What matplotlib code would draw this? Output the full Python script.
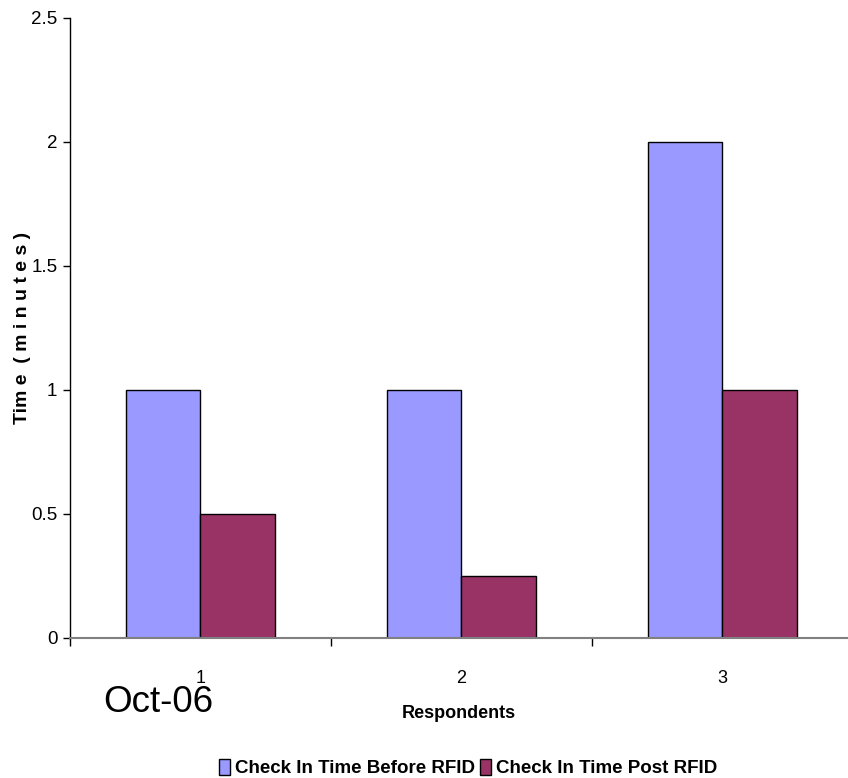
import numpy as np
import matplotlib
matplotlib.use("Agg")
import matplotlib.pyplot as plt

# data
respondents = ["1", "2", "3"]
before_rfid = [1.0, 1.0, 2.0]
post_rfid = [0.5, 0.25, 1.0]
y_ticks = [0, 0.5, 1, 1.5, 2, 2.5]
y_tick_labels = ["0", "0.5", "1", "1.5", "2", "2.5"]

sans = ["Liberation Sans", "DejaVu Sans"]

fig = plt.figure(figsize=(8.48, 7.78), dpi=100)
ax = fig.add_axes([70 / 848, 140 / 778, 778 / 848, 620 / 778])

x = np.arange(len(respondents))
w = 0.287
ax.bar(x - w / 2, before_rfid, w, color="#9999ff", edgecolor="black", linewidth=1,
       label="Check In Time Before RFID", zorder=2)
ax.bar(x + w / 2, post_rfid, w, color="#993366", edgecolor="black", linewidth=1,
       label="Check In Time Post RFID", zorder=2)

ax.set_xlim(-0.5, 2.481)
ax.set_ylim(0, 2.5)

ax.spines["top"].set_visible(False)
ax.spines["right"].set_visible(False)
ax.spines["bottom"].set_color("#808080")
ax.spines["bottom"].set_linewidth(1.5)
ax.spines["left"].set_linewidth(1)

ax.set_yticks(y_ticks)
ax.set_yticklabels(y_tick_labels, family=sans, fontsize=13.5)
ax.tick_params(axis="y", length=5, width=1, pad=4)

# ticks between categories, labels at centres
ax.set_xticks([-0.5, 0.5, 1.5])
ax.set_xticklabels([])
ax.set_xticks(x, minor=True)
ax.set_xticklabels(respondents, minor=True, family=sans, fontsize=13)
ax.tick_params(axis="x", which="major", length=6, width=1, color="black")
ax.tick_params(axis="x", which="minor", length=0, pad=23)

ax.set_xlabel("Respondents", family=sans, fontsize=13, fontweight="bold", labelpad=13)
ax.set_ylabel("Tim e  ( m i n u t e s )", family=sans, fontsize=14, fontweight="bold")
ax.yaxis.set_label_coords(-39 / 778, 0.5)

fig.text(103 / 848, 1 - 703 / 778, "Oct-06", family="Liberation Sans", fontsize=26.5,
         va="center", ha="left")

leg = fig.legend(loc="center", bbox_to_anchor=(468 / 848, 1 - 768 / 778), ncol=2,
                 frameon=False, prop={"family": sans, "size": 13.5, "weight": "bold"},
                 handlelength=0.6, handleheight=1.0, handletextpad=0.25, columnspacing=0.3,
                 borderpad=0)

fig.savefig("out.png", dpi=100)
